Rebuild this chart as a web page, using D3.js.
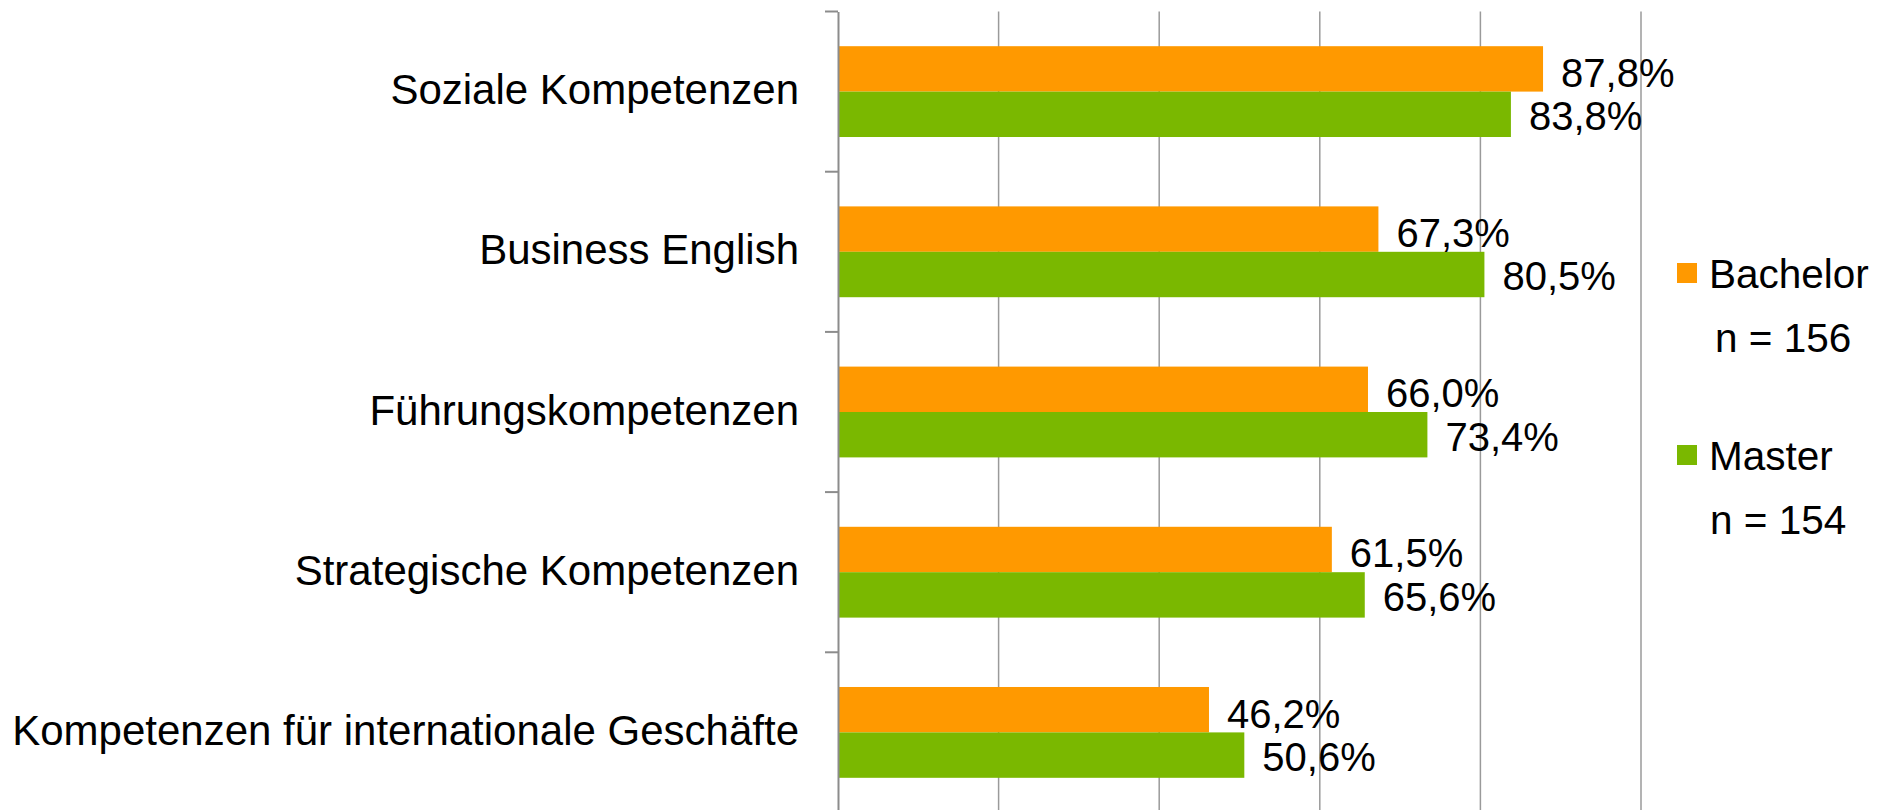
<!DOCTYPE html>
<html>
<head>
  <meta charset="utf-8">
  <title>Kompetenzen Bachelor / Master</title>
  <script src="https://d3js.org/d3.v7.min.js"></script>
  <style>
    body { margin: 0; background: #fff; }
    text { font-family: "Liberation Sans", Arial, sans-serif; fill: #000; }
    .cat-label { font-size: 42px; }
    .val-label { font-size: 40px; }
    .legend text { font-size: 40.5px; }
  </style>
</head>
<body>
  <svg id="chart" width="1890" height="810"></svg>
  <script>
    // Daten
    const categories = [
      "Soziale Kompetenzen",
      "Business English",
      "Führungskompetenzen",
      "Strategische Kompetenzen",
      "Kompetenzen für internationale Geschäfte"
    ];
    const seriesNames = ["Bachelor", "Master"];
    const seriesN = ["n = 156", "n = 154"];
    const bachelor = [87.8, 67.3, 66.0, 61.5, 46.2];
    const master = [83.8, 80.5, 73.4, 65.6, 50.6];
    const gridTicks = [20, 40, 60, 80, 100];
    const colors = ["#FF9900", "#7AB800"];

    const svg = d3.select("#chart");

    const x = d3.scaleLinear().domain([0, 100]).range([838, 1641]);
    const y = d3.scaleBand().domain(categories).range([11.5, 812.5]).padding(0);
    const ySub = d3.scaleBand().domain(seriesNames)
      .range([0, y.bandwidth()]).paddingInner(0).paddingOuter(0.764);

    const de = d3.formatLocale({ decimal: ",", thousands: ".", grouping: [3], currency: ["", " €"] });
    const fmt = v => de.format(".1f")(v) + "%";

    // Gitternetzlinien
    svg.append("g").selectAll("line")
      .data(gridTicks)
      .join("line")
      .attr("x1", d => x(d)).attr("x2", d => x(d))
      .attr("y1", 11.5).attr("y2", 812.5)
      .attr("stroke", "#9a9a9a")
      .attr("stroke-width", 1.5);

    // Balken
    const rows = categories.map((c, i) => ({ cat: c, values: [bachelor[i], master[i]] }));
    const groups = svg.append("g").selectAll("g")
      .data(rows)
      .join("g")
      .attr("transform", d => `translate(0,${y(d.cat)})`);

    groups.selectAll("rect")
      .data(d => d.values.map((v, j) => ({ series: seriesNames[j], v, j })))
      .join("rect")
      .attr("x", x(0))
      .attr("y", d => ySub(d.series))
      .attr("width", d => x(d.v) - x(0))
      .attr("height", ySub.bandwidth())
      .attr("fill", d => colors[d.j]);

    groups.selectAll("text.val-label")
      .data(d => d.values.map((v, j) => ({ series: seriesNames[j], v, j })))
      .join("text")
      .attr("class", "val-label")
      .attr("x", d => x(d.v) + 18)
      .attr("y", d => ySub(d.series) + ySub.bandwidth() / 2)
      .attr("dy", d => d.j === 0 ? "0.45em" : "0.40em")
      .text(d => fmt(d.v));

    // Kategorieachse
    const yAxis = d3.axisLeft(y).tickSize(0).tickFormat("");
    const axisG = svg.append("g").attr("transform", `translate(${x(0)},0)`).call(yAxis);
    axisG.select(".domain").attr("stroke", "#8c8c8c").attr("stroke-width", 2);

    const bounds = categories.map(c => y(c)).concat([y.range()[1]]);
    svg.append("g").selectAll("line")
      .data(bounds)
      .join("line")
      .attr("x1", x(0) - 13).attr("x2", x(0))
      .attr("y1", d => d).attr("y2", d => d)
      .attr("stroke", "#8c8c8c")
      .attr("stroke-width", 2);

    svg.append("g").selectAll("text")
      .data(categories)
      .join("text")
      .attr("class", "cat-label")
      .attr("text-anchor", "end")
      .attr("x", 799)
      .attr("y", d => y(d) + y.bandwidth() / 2)
      .attr("dy", "0.3em")
      .text(d => d);

    // Legende
    const legend = svg.append("g").attr("class", "legend");
    const legendY = [263, 445];
    const nX = [1715, 1710];
    seriesNames.forEach((s, i) => {
      legend.append("rect")
        .attr("x", 1677).attr("y", legendY[i])
        .attr("width", 20).attr("height", 20)
        .attr("fill", colors[i]);
      legend.append("text")
        .attr("x", 1709).attr("y", legendY[i] + 25)
        .text(s);
      legend.append("text")
        .attr("x", nX[i]).attr("y", legendY[i] + 89)
        .text(seriesN[i]);
    });
  </script>
</body>
</html>
